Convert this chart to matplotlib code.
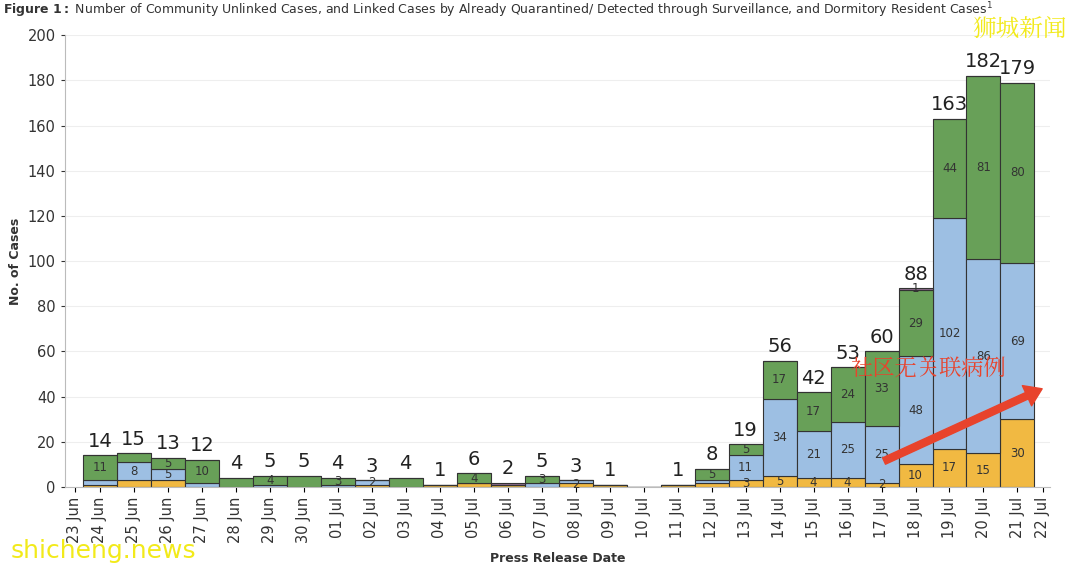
import matplotlib
matplotlib.use("Agg")
import matplotlib.pyplot as plt
from matplotlib import font_manager
import numpy as np

dates = ["24 Jun","25 Jun","26 Jun","27 Jun","28 Jun","29 Jun","30 Jun",
         "01 Jul","02 Jul","03 Jul","04 Jul","05 Jul","06 Jul","07 Jul","08 Jul","09 Jul",
         "10 Jul","11 Jul","12 Jul","13 Jul","14 Jul","15 Jul","16 Jul","17 Jul","18 Jul",
         "19 Jul","20 Jul","21 Jul"]
unlinked = [1,3,3,0,0,0,0,0,1,0,1,2,1,0,2,1,0,1,2,3,5,4,4,2,10,17,15,30]
quarantined = [2,8,5,2,0,1,0,1,2,0,0,0,0,2,1,0,0,0,1,11,34,21,25,25,48,102,86,69]
surveillance = [11,4,5,10,4,4,5,3,0,4,0,4,0,3,0,0,0,0,5,5,17,17,24,33,29,44,81,80]
dormitory = [0,0,0,0,0,0,0,0,0,0,0,0,1,0,0,0,0,0,0,0,0,0,0,0,1,0,0,0]

cjk = None
for f in font_manager.fontManager.ttflist:
    if "CJK" in f.name:
        cjk = f.name
        if "SC" in f.name:
            break
cjk = [cjk] if cjk else ["DejaVu Sans"]

series = [(unlinked,"#f1b942"),(quarantined,"#9dbfe3"),(surveillance,"#68a058"),(dormitory,"#8c6b8c")]
# segments without inner label in the reference (series index, bar index)
hidden = {(0,1),(0,2),(1,3),(2,4),(2,6),(2,9),(0,18)}
shown_small = {(2,5),(2,7),(1,8),(2,11),(2,13),(0,14),(2,18),(0,19),(0,20),(0,21),(0,22),(0,23),(3,24)}

fig = plt.figure(figsize=(10.8,5.67), dpi=100)
ax = fig.add_axes([0.06,0.141,0.912,0.797])
x = np.arange(len(dates))
bottom = np.zeros(len(dates))
for si, (vals, col) in enumerate(series):
    v = np.array(vals, float)
    ax.bar(x, v, bottom=bottom, width=1.0, color=col, edgecolor="#333333", linewidth=0.8)
    for i in range(len(x)):
        if ((v[i] >= 5 and (si, i) not in hidden) or (si, i) in shown_small) and v[i] > 0:
            ax.text(x[i], bottom[i]+max(v[i]/2, 0.8), str(int(v[i])), ha="center", va="center",
                    fontsize=8.5, color="#333333")
    bottom += v
for i in range(len(x)):
    if bottom[i] > 0:
        ax.text(x[i], bottom[i]+2, str(int(bottom[i])), ha="center", va="bottom", fontsize=14, color="#222222")

ax.set_ylim(0,200)
ax.set_xlim(-1.03, 27.95)
ax.set_yticks(range(0,201,20))
ax.tick_params(axis="y", labelsize=10.5, colors="#333333", length=3)
ticks = [-0.73] + list(x) + [27.75]
labels = ["23 Jun"] + dates + ["22 Jul"]
ax.set_xticks(ticks)
ax.set_xticklabels(labels, rotation=90, fontsize=10.5, color="#333333")
ax.grid(axis="y", color="#eeeeee", linewidth=0.8)
ax.set_axisbelow(True)
for s in ["top","right"]:
    ax.spines[s].set_visible(False)
ax.spines["left"].set_color("#bbbbbb")
ax.spines["bottom"].set_color("#bbbbbb")
ax.set_ylabel("No. of Cases", fontsize=9, fontweight="bold", color="#333333")
ax.set_xlabel("Press Release Date", fontsize=9, fontweight="bold", color="#333333", labelpad=6)

fig.text(0.003, 0.965, r"$\bf{Figure\ 1:}$ Number of Community Unlinked Cases, and Linked Cases by Already Quarantined/ Detected through Surveillance, and Dormitory Resident Cases$^1$",
         fontsize=9, color="#333333", va="bottom")
fig.text(0.988, 0.935, "狮城新闻", fontsize=17, color="#f2ea1a", ha="right", fontfamily=cjk)
fig.text(0.01, 0.015, "shicheng.news", fontsize=18, color="#f2ea1a", ha="left")
ax.text(22.1, 52, "社区无关联病例", fontsize=16, color="#e8432c", ha="left", va="center", fontfamily=cjk)
ax.annotate("", xy=(27.8, 44), xytext=(23.0, 11),
            arrowprops=dict(arrowstyle="simple,head_width=1.6,head_length=1.2,tail_width=0.5", color="#e8432c"))
fig.savefig("out.png", dpi=100)
